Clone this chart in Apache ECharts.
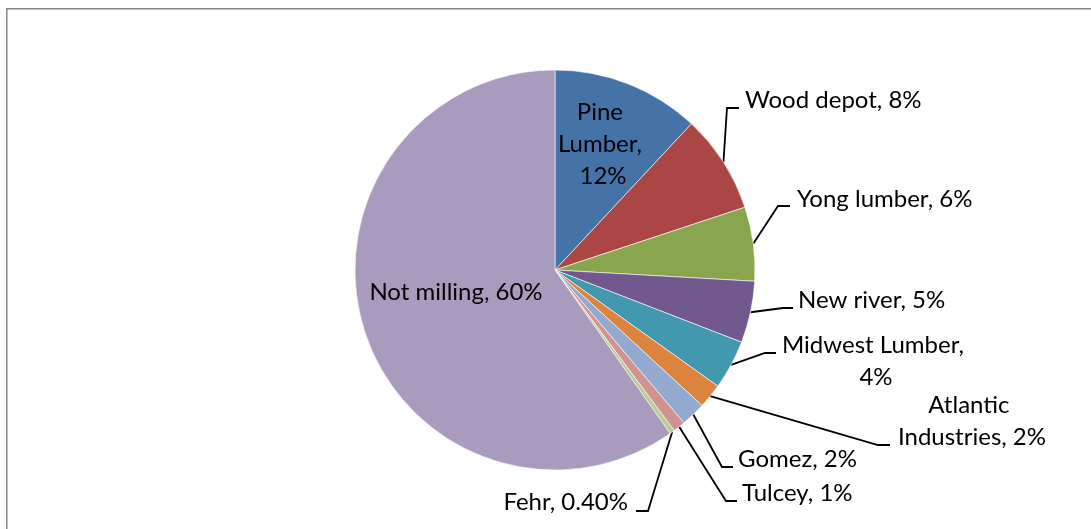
<!DOCTYPE html>
<html>
<head>
<meta charset="utf-8">
<style>
  html, body { margin: 0; padding: 0; background: #fff; }
  #chart { width: 1091px; height: 529px; }
</style>
<script src="https://cdn.jsdelivr.net/npm/echarts@6/dist/echarts.min.js"></script>
</head>
<body>
<div id="chart"></div>
<script>
// Share of milling by company (percent)
const companies = ['Pine Lumber', 'Wood depot', 'Yong lumber', 'New river', 'Midwest Lumber',
                   'Atlantic Industries', 'Gomez', 'Tulcey', 'Fehr', 'Not milling'];
const shares = [12, 8, 6, 5, 4, 2, 2, 1, 0.4, 60];
const sliceColors = ['#4572A7', '#AA4643', '#89A54E', '#71588F', '#4198AF',
                     '#DB843D', '#93A9CF', '#D19392', '#B9CD96', '#A99BBD'];

// Label placement: anchor, alignment, wrap width and leader-line bend/end points
const labelPlacement = {
  'Pine Lumber':         { x: 603, y: 144, align: 'center', width: 100, inside: true },
  'Not milling':         { x: 456, y: 292, align: 'center', inside: true },
  'Wood depot':          { x: 745, y: 100, align: 'left',   bend: [727, 108], end: [739, 108] },
  'Yong lumber':         { x: 797, y: 199, align: 'left',   bend: [778, 206], end: [790, 206] },
  'New river':           { x: 798, y: 300, align: 'left',   bend: [783, 308], end: [793, 308] },
  'Midwest Lumber':      { x: 876, y: 361, align: 'center', width: 210, bend: [765, 353], end: [776, 353] },
  'Atlantic Industries': { x: 972, y: 421, align: 'center', width: 170, bend: [878, 445], end: [890, 445] },
  'Gomez':               { x: 738, y: 459, align: 'left',   bend: [722, 467], end: [733, 467] },
  'Tulcey':              { x: 742, y: 493, align: 'left',   bend: [726, 501], end: [737, 501] },
  'Fehr':                { x: 628, y: 502, align: 'right',  bend: [648, 511], end: [636, 511] }
};

const fmtValue = v => (v < 1 ? v.toFixed(2) : String(v)) + '%';

const pieData = companies.map((name, i) => {
  const p = labelPlacement[name];
  const item = {
    name: name,
    value: shares[i],
    itemStyle: { color: sliceColors[i] },
    label: { position: p.inside ? 'inside' : 'outside' }
  };
  if (p.width) {
    item.label.width = p.width;
    item.label.overflow = 'break';
  }
  if (p.inside) item.labelLine = { show: false };
  return item;
});

const chart = echarts.init(document.getElementById('chart'), null, { renderer: 'canvas' });

chart.setOption({
  animation: false,
  backgroundColor: '#ffffff',
  graphic: [{
    type: 'polyline',
    shape: { points: [[6.75, 540], [6.75, 8.75], [1100, 8.75]] },
    style: { stroke: '#878787', lineWidth: 1.5, fill: null },
    silent: true
  }],
  series: [{
    type: 'pie',
    center: [555, 270],
    radius: 200,
    startAngle: 90,
    clockwise: true,
    avoidLabelOverlap: false,
    itemStyle: { borderColor: '#ffffff', borderWidth: 0.6 },
    emphasis: { disabled: true },
    label: {
      show: true,
      color: '#000',
      fontFamily: 'Lato, "Open Sans", sans-serif',
      fontSize: 24,
      lineHeight: 32,
      formatter: p => p.name + ', ' + fmtValue(p.value)
    },
    labelLine: {
      show: true,
      lineStyle: { color: '#000', width: 1.8 }
    },
    labelLayout: params => {
      const name = companies[params.dataIndex];
      const p = labelPlacement[name];
      const layout = { x: p.x, y: p.y, align: p.align, verticalAlign: 'middle' };
      if (!p.inside && params.labelLinePoints) {
        layout.labelLinePoints = [params.labelLinePoints[0], p.bend, p.end];
      }
      return layout;
    },
    data: pieData
  }]
});
</script>
</body>
</html>
